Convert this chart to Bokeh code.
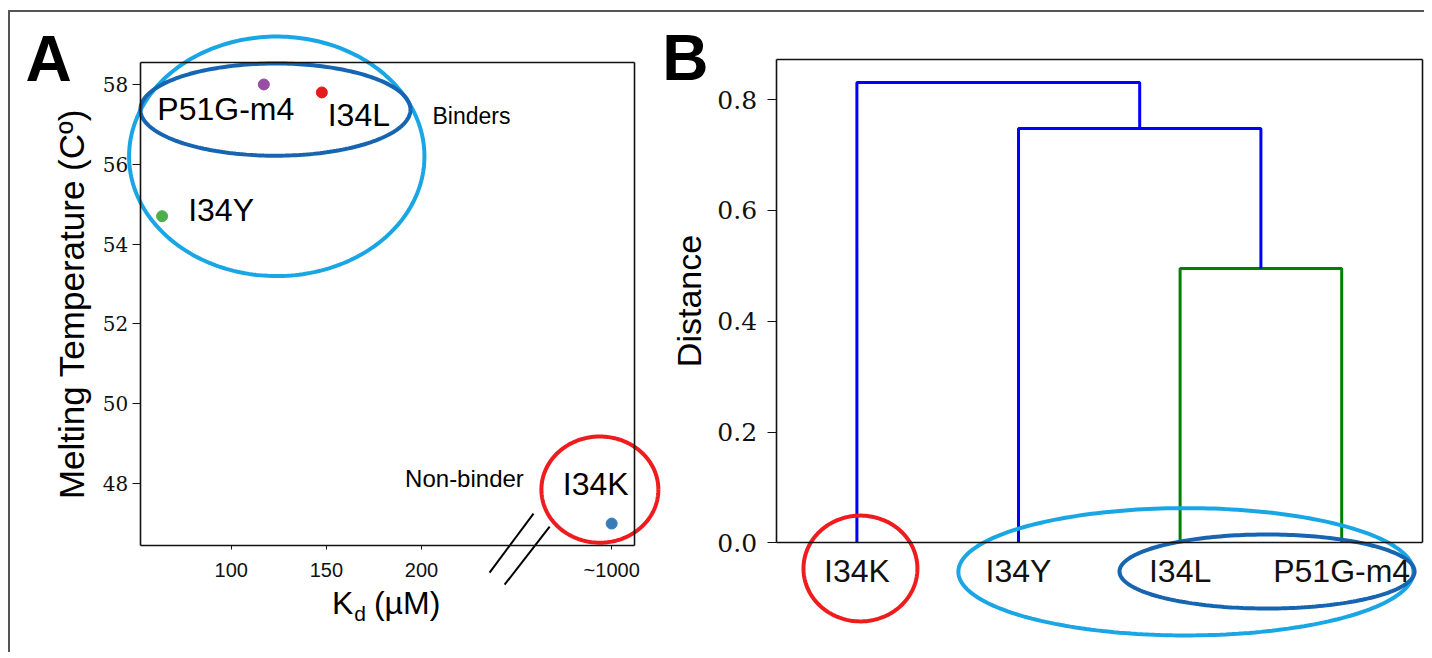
import numpy as np
from bokeh.plotting import figure
from bokeh.models import Range1d, FixedTicker, LinearAxis, PrintfTickFormatter
from bokeh.layouts import row
from bokeh.embed import file_html
from bokeh.resources import INLINE
from bokeh.core.properties import value

# ---------------- Panel A data ----------------
variants = ["P51G-m4", "I34L", "I34Y", "I34K"]
kd_plot = [117.1, 147.6, 63.6, 300.0]      # I34K (~1000 uM) is drawn at the axis-break position 300
tm = [58.0, 57.8, 54.7, 47.0]
point_colors = ["#984ea3", "#e41a1c", "#4daf4a", "#377eb8"]
a_xticks = [100, 150, 200, 300]
a_xtick_labels = {300: "~1000"}
a_yticks = [48, 50, 52, 54, 56, 58]
a_xlim = (52.1, 312.0)
a_ylim = (46.45, 58.55)

# ---------------- Panel B data ----------------
leaves = ["I34K", "I34Y", "I34L", "P51G-m4"]
# merges: (left member, right member, distance)
merges = [("I34L", "P51G-m4", 0.495), ("I34Y", "c0", 0.748), ("I34K", "c1", 0.831)]
merge_colors = ["#008000", "#0000ff", "#0000ff"]
b_yticks = [0.0, 0.2, 0.4, 0.6, 0.8]
b_xlim = (0.0, 40.0)
b_ylim = (0.0, 0.872)

SANS = "Liberation Sans"
SERIF = "DejaVu Serif"
LIGHT = "#1aa6e4"
DARK = "#1765b0"
RED = "#ee1c1f"
ORIGIN = (10, 12)   # page position of the figures' top-left corner


def extended(d0, d1, p0, p1, P0, P1):
    """data d0 at pixel p0 and d1 at pixel p1 -> data values at pixels P0, P1"""
    s = (d1 - d0) / (p1 - p0)
    return Range1d(d0 + (P0 - p0) * s, d0 + (P1 - p0) * s)


def make_fig(width, height, left, frame, xlim, ylim):
    fl, ft, fr, fb = frame
    top = ORIGIN[1]
    xr = extended(xlim[0], xlim[1], fl, fr, left, left + width)
    yr = extended(ylim[0], ylim[1], fb, ft, top + height, top)
    p = figure(width=width, height=height, output_backend="svg", toolbar_location=None,
               x_range=xr, y_range=yr, min_border=0)
    p.grid.visible = False
    p.outline_line_color = None
    xa = p.below[0]
    ya = p.left[0]
    xa.fixed_location = ylim[0]
    xa.bounds = xlim
    ya.fixed_location = xlim[0]
    ya.bounds = ylim
    for loc, fixed, bounds in (("above", ylim[1], xlim), ("right", xlim[1], ylim)):
        ax = LinearAxis(fixed_location=fixed, bounds=bounds, ticker=FixedTicker(ticks=[]),
                        major_label_text_font_size="0px", axis_line_color="#111111",
                        axis_line_width=1.6, major_tick_line_color=None, minor_tick_line_color=None)
        p.add_layout(ax, loc)
    for ax in (xa, ya):
        ax.axis_line_color = "#111111"
        ax.axis_line_width = 1.6
        ax.major_tick_in = 0
        ax.minor_tick_line_color = None
        ax.major_tick_line_color = "#111111"
        ax.major_label_text_color = "#111111"
    return p, xa, ya


def ring(p, cx, cy, w, h, color, lw=4):
    t = np.linspace(0, 2 * np.pi, 240)
    p.line(cx + w / 2 * np.cos(t), cy + h / 2 * np.sin(t), line_color=color, line_width=lw)


# ================= Panel A =================
pa, ax_ax, ay_ax = make_fig(652, 640, 10, (139.7, 62, 634, 545), a_xlim, a_ylim)
ax_ax.ticker = FixedTicker(ticks=a_xticks)
ax_ax.major_label_overrides = a_xtick_labels
ax_ax.major_tick_out = 4
ax_ax.major_label_text_font = SANS
ax_ax.major_label_text_font_size = "20px"
ax_ax.major_label_standoff = 9
ay_ax.ticker = FixedTicker(ticks=a_yticks)
ay_ax.major_tick_out = 8
ay_ax.major_label_text_font = SERIF
ay_ax.major_label_text_font_size = "20px"
ay_ax.major_label_standoff = 4
ay_ax.axis_label = "Melting Temperature (C\u00ba)"
ay_ax.axis_label_text_font = SANS
ay_ax.axis_label_text_font_size = "35px"
ay_ax.axis_label_text_font_style = "normal"
ay_ax.axis_label_standoff = 9
ay_ax.axis_label_text_color = "black"

ring(pa, 123.9, 56.2, 155.3, 6.0, LIGHT)
ring(pa, 123.2, 57.37, 142.0, 2.31, DARK)
ring(pa, 293.8, 47.85, 61.5, 2.66, RED)

pa.scatter(kd_plot, tm, size=11, color=point_colors)

label_dx = [-38, 37, 59, -16]
label_dy = [25, 23, -6, -40]
pa.text(x=kd_plot, y=tm, text=variants, x_offset=label_dx, y_offset=label_dy,
        text_font=value(SANS), text_font_size="32px", text_align="center",
        text_baseline="middle", text_color="black")

pa.text(x=[226.3], y=[57.2], text=["Binders"], text_font=value(SANS), text_font_size="23px",
        text_align="center", text_baseline="middle", text_color="black")
pa.text(x=[222.6], y=[48.14], text=["Non-binder"], text_font=value(SANS), text_font_size="24px",
        text_align="center", text_baseline="middle", text_color="black")

# axis title K_d (uM)
pa.text(x=[164.2], y=[45.02], text=["K"], text_font=value(SANS), text_font_size="32px",
        text_align="right", text_baseline="middle", text_color="black")
pa.text(x=[164.7], y=[44.74], text=["d"], text_font=value(SANS), text_font_size="21px",
        text_align="left", text_baseline="middle", text_color="black")
pa.text(x=[175.0], y=[45.02], text=["(\u00b5M)"], text_font=value(SANS), text_font_size="32px",
        text_align="left", text_baseline="middle", text_color="black")

# axis break marks
pa.segment(x0=[235.8, 243.7], y0=[45.77, 45.47], x1=[258.9, 267.4], y1=[47.25, 46.92],
           line_color="black", line_width=2)

pa.text(x=[3.9], y=[58.65], text=["A"], text_font=value(SANS), text_font_size="64px",
        text_font_style="bold", text_align="center", text_baseline="middle", text_color="black")

# ================= Panel B =================
pos = {name: 5 + 10 * i for i, name in enumerate(leaves)}
hgt = {name: 0.0 for name in leaves}
link_xs, link_ys = [], []
for k, (a, b, h) in enumerate(merges):
    link_xs.append([pos[a], pos[a], pos[b], pos[b]])
    link_ys.append([hgt[a], h, h, hgt[b]])
    pos["c%d" % k] = (pos[a] + pos[b]) / 2
    hgt["c%d" % k] = h

pb, bx_ax, by_ax = make_fig(762, 640, 662, (775.6, 59.3, 1422, 542.3), b_xlim, b_ylim)
pb.multi_line(link_xs, link_ys, line_color=merge_colors, line_width=3)

bx_ax.ticker = FixedTicker(ticks=[5 + 10 * i for i in range(len(leaves))])
bx_ax.major_label_overrides = {5 + 10 * i: n for i, n in enumerate(leaves)}
bx_ax.major_tick_out = 0
bx_ax.major_label_text_font = SANS
bx_ax.major_label_text_font_size = "32px"
bx_ax.major_label_standoff = 10
by_ax.ticker = FixedTicker(ticks=b_yticks)
by_ax.formatter = PrintfTickFormatter(format="%.1f")
by_ax.major_tick_out = 9
by_ax.major_label_text_font = SERIF
by_ax.major_label_text_font_size = "25px"
by_ax.major_label_standoff = 10
by_ax.axis_label = "Distance"
by_ax.axis_label_text_font = SANS
by_ax.axis_label_text_font_size = "34px"
by_ax.axis_label_text_font_style = "normal"
by_ax.axis_label_standoff = 7
by_ax.axis_label_text_color = "black"

ring(pb, 5.22, -0.0464, 7.05, 0.191, RED)
ring(pb, 25.36, -0.0523, 28.16, 0.2298, LIGHT)
ring(pb, 30.38, -0.0518, 18.26, 0.1336, DARK)

pb.text(x=[-5.61], y=[0.876], text=["B"], text_font=value(SANS), text_font_size="64px",
        text_font_style="bold", text_align="center", text_baseline="middle", text_color="black")

layout = row(pa, pb, margin=(10, 0, 0, 8),
             styles={"border-top": "2px solid #555555", "border-left": "2px solid #555555"})
open("out.html", "w").write(file_html(layout, INLINE))
